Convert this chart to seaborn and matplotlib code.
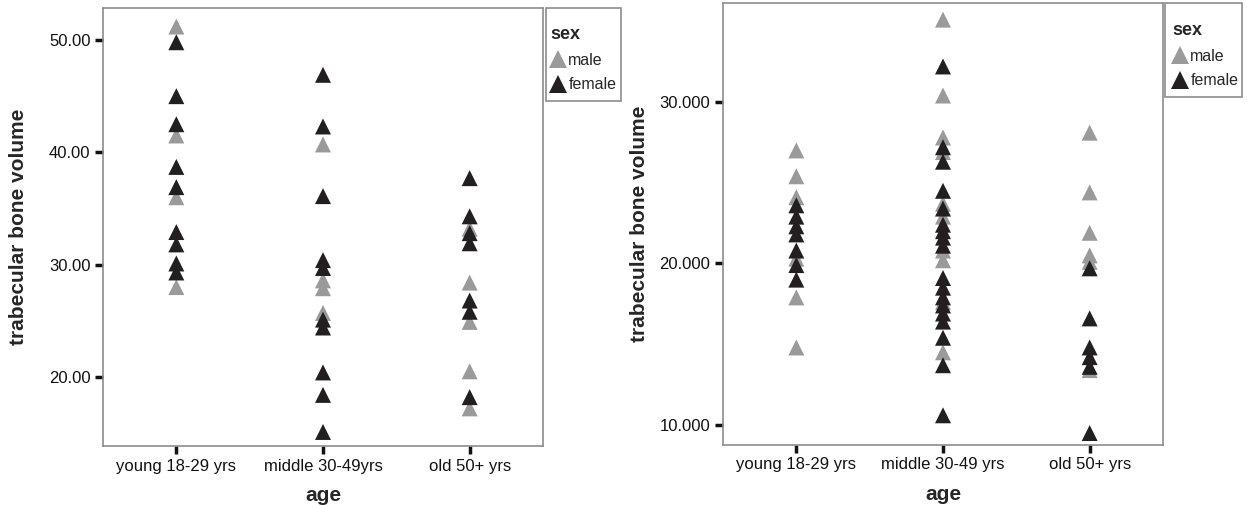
import matplotlib
matplotlib.use("Agg")
import pandas as pd
import seaborn as sns
import matplotlib.pyplot as plt
from matplotlib.patches import Rectangle
from matplotlib.ticker import FormatStrFormatter

# left panel (ages: young 18-29 yrs / middle 30-49yrs / old 50+ yrs)
left_ages = ["young 18-29 yrs", "middle 30-49yrs", "old 50+ yrs"]
left_young_male = [51.2, 41.5, 36.0, 28.0]
left_young_female = [49.8, 45.0, 42.5, 38.7, 36.9, 32.9, 31.8, 30.1, 29.3]
left_middle_male = [40.7, 28.6, 27.9, 25.7]
left_middle_female = [46.9, 42.3, 36.1, 30.4, 29.7, 25.1, 24.4, 20.4, 18.4, 15.1]
left_old_male = [33.2, 28.4, 24.9, 20.5, 17.2]
left_old_female = [37.7, 34.3, 32.8, 31.9, 26.8, 25.8, 18.2]
left_yticks = [20, 30, 40, 50]

# right panel
right_ages = ["young 18-29 yrs", "middle 30-49 yrs", "old 50+ yrs"]
right_young_male = [27.0, 25.4, 24.1, 20.3, 17.9, 14.8]
right_young_female = [23.6, 22.9, 22.3, 21.8, 20.8, 19.9, 19.0]
right_middle_male = [35.1, 30.4, 27.8, 26.9, 23.7, 22.9, 20.8, 20.2, 17.6, 14.5]
right_middle_female = [32.2, 27.2, 26.3, 24.5, 23.4, 22.4, 22.0, 21.6, 21.1, 19.1,
                       18.5, 17.9, 17.4, 16.9, 16.4, 15.4, 13.7, 10.6]
right_old_male = [28.1, 24.4, 21.9, 20.5, 20.1, 13.4]
right_old_female = [19.7, 16.6, 14.8, 14.2, 13.6, 9.5]
right_yticks = [10, 20, 30]

sexes = ["male", "female"]
colors = {"male": "#9a9a9a", "female": "#231f20"}
W, H = 1247, 505


def build(ages, groups):
    rows = []
    for age, (male, female) in zip(ages, groups):
        for v in male:
            rows.append((age, "male", v))
        for v in female:
            rows.append((age, "female", v))
    return pd.DataFrame(rows, columns=["age", "sex", "volume"])


left_df = build(left_ages, [(left_young_male, left_young_female),
                            (left_middle_male, left_middle_female),
                            (left_old_male, left_old_female)])
right_df = build(right_ages, [(right_young_male, right_young_female),
                              (right_middle_male, right_middle_female),
                              (right_old_male, right_old_female)])

sns.set_style("white")
plt.rcParams['font.family'] = ['Liberation Sans', 'DejaVu Sans']

fig = plt.figure(figsize=(W / 100, H / 100), dpi=100)
ax1 = fig.add_axes([103 / W, 59 / H, 440 / W, 438 / H])
ax2 = fig.add_axes([723 / W, 60 / H, 440 / W, 442 / H])


def panel(ax, df, ages, ylim, yticks, fmt, ypad, box, content):
    sns.stripplot(data=df, x="age", y="volume", hue="sex", order=ages,
                  hue_order=sexes, palette=colors, jitter=False, dodge=False,
                  marker="^", size=11.5, linewidth=0, ax=ax)
    ax.set_xlim(-0.5, 2.5)
    ax.set_ylim(*ylim)
    ax.set_yticks(yticks)
    ax.yaxis.set_major_formatter(FormatStrFormatter(fmt))
    ax.set_xlabel("age", fontsize=15, fontweight="bold", labelpad=9)
    ax.set_ylabel("trabecular bone volume", fontsize=15, fontweight="bold", labelpad=ypad)
    ax.tick_params(axis="both", direction="out", length=6, width=2.5,
                   color="#111111", labelsize=12, labelcolor="#111111",
                   bottom=True, left=True, pad=3)
    for s in ax.spines.values():
        s.set_color("#8c8c8c")
        s.set_linewidth(1.2)
    handles, labels = ax.get_legend_handles_labels()
    leg = ax.legend(handles, labels, title="sex", loc="upper left",
                    bbox_to_anchor=(content[0] / W, 1 - content[1] / H),
                    bbox_transform=fig.transFigure,
                    frameon=False, fontsize=11.5, title_fontsize=13,
                    handletextpad=0.15, borderpad=0, labelspacing=0.6,
                    handlelength=1.0, borderaxespad=0, markerscale=1.15)
    leg.get_title().set_fontweight("bold")
    leg._legend_box.align = "left"
    x0, y0, x1, y1 = box
    fig.add_artist(Rectangle((x0 / W, 1 - y1 / H), (x1 - x0) / W, (y1 - y0) / H,
                             transform=fig.transFigure, fill=False,
                             edgecolor="#8c8c8c", linewidth=1.2))


panel(ax1, left_df, left_ages, (13.85, 52.85), left_yticks, "%.2f", 15,
      (546, 8, 621, 101), (550, 26))
panel(ax2, right_df, right_ages, (8.76, 36.13), right_yticks, "%.3f", 8,
      (1165, 3, 1242, 97), (1172, 22))

fig.savefig("out.png", dpi=100)
